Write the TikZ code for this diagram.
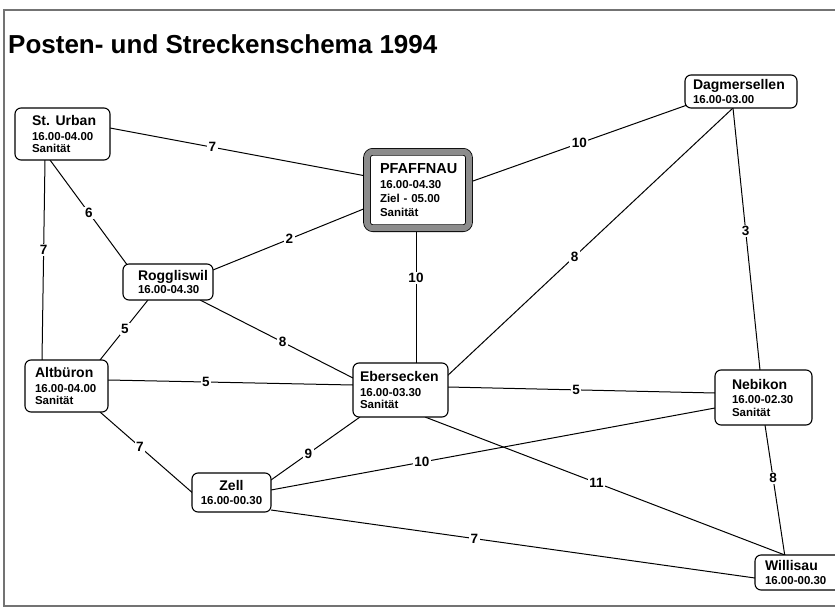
\documentclass[tikz,border=0pt]{standalone}
\usepackage{fontspec}
\setmainfont{Liberation Sans}
\usetikzlibrary{backgrounds}
\newcommand\nm[1]{{\fontsize{14}{15}\selectfont #1}}
\newcommand\pnm[1]{{\fontsize{14.5}{16}\selectfont #1}}
\begin{document}
\begin{tikzpicture}[x=1pt,y=-1pt,
  stn/.style={draw, line width=1.1pt, rounded corners=6pt, fill=white, align=left,
    inner ysep=0pt, font=\bfseries\fontsize{11.5}{12.5}\selectfont},
  lbl/.style={fill=white, inner sep=1.5pt, font=\bfseries\fontsize{13.5}{15}\selectfont},
  con/.style={line width=1pt},
  frm/.style={line width=1.3pt, black!55}
]
\useasboundingbox (0,0) rectangle (835,610);
\draw[frm] (835,10) -- (4,10) -- (4,606) -- (835,606);
\node[anchor=base west, inner sep=0pt, font=\bfseries\fontsize{26}{30}\selectfont] (title) at (8,53) {Posten- und Streckenschema 1994};

\node[stn, text width=61pt, inner xsep=17pt, minimum height=52pt] (stu) at (62.5,134) {\mbox{\nm{St. Urban}}\\[2pt]\mbox{16.00-04.00}\\\mbox{Sanität}};
\node[stn, draw=black, line width=0.8pt, double=black!45, double distance=6pt, fill=white,
  text width=76pt, inner xsep=13pt, minimum height=76.4pt, font=\bfseries\fontsize{11.5}{14}\selectfont] (pfa) at (418,190)
  {\mbox{\pnm{PFAFFNAU}}\\[1pt]\mbox{16.00-04.30}\\\mbox{Ziel - 05.00}\\\mbox{Sanität}};
\node[stn, text width=96pt, inner xsep=8pt, minimum height=33pt] (dag) at (741,91.5) {\mbox{\nm{Dagmersellen}}\\[1pt]\mbox{16.00-03.00}};
\node[stn, text width=60pt, inner xsep=15pt, minimum height=36pt] (rog) at (168,282) {\mbox{\nm{Roggliswil}}\\[1pt]\mbox{16.00-04.30}};
\node[stn, text width=63pt, inner xsep=10pt, minimum height=52pt] (alt) at (66.5,386) {\mbox{\nm{Altbüron}}\\[2pt]\mbox{16.00-04.00}\\\mbox{Sanität}};
\node[stn, text width=81pt, inner xsep=7pt, minimum height=54pt] (ebe) at (400.5,390) {\mbox{\nm{Ebersecken}}\\[2pt]\mbox{16.00-03.30}\\\mbox{Sanität}};
\node[stn, text width=63pt, inner xsep=17pt, minimum height=55pt] (neb) at (763.5,397.5) {\mbox{\nm{Nebikon}}\\[2pt]\mbox{16.00-02.30}\\\mbox{Sanität}};
\node[stn, align=center, text width=69pt, inner xsep=5pt, minimum height=39pt] (zel) at (231.5,492.5) {\mbox{\nm{Zell}}\\[2pt]\mbox{16.00-00.30}};
\node[stn, text width=70pt, inner xsep=10pt, minimum height=35pt] (wil) at (800,572.5) {\mbox{\nm{Willisau}}\\[1pt]\mbox{16.00-00.30}};

\begin{scope}[on background layer]
\draw[con] ([shift={(47.5,-6)}]stu.center) -- node[lbl,pos=0.4]{7} ([shift={(-52,-14)}]pfa.center);
\draw[con] ([shift={(55,-9)}]pfa.center) -- node[lbl,pos=0.49]{10} ([shift={(-51,12.5)}]dag.center);
\draw[con] ([shift={(-12.5,26)}]stu.center) -- node[lbl,pos=0.5]{6} ([shift={(-40,-16)}]rog.center);
\draw[con] ([shift={(-17.5,26)}]stu.center) -- node[lbl,pos=0.45]{7} ([shift={(-24.5,-26)}]alt.center);
\draw[con] ([shift={(45,-12)}]rog.center) -- node[lbl,pos=0.5]{2} ([shift={(-52,18)}]pfa.center);
\draw[con] ([shift={(-2,42)}]pfa.center) -- node[lbl,pos=0.35]{10} ([shift={(15.5,-27)}]ebe.center);
\draw[con] ([shift={(-8,16.5)}]dag.center) -- node[lbl,pos=0.55]{8} ([shift={(44.5,-12)}]ebe.center);
\draw[con] ([shift={(-8,16.5)}]dag.center) -- node[lbl,pos=0.47]{3} ([shift={(-3.5,-27.5)}]neb.center);
\draw[con] ([shift={(-20,18)}]rog.center) -- node[lbl,pos=0.48]{5} ([shift={(33.5,-26)}]alt.center);
\draw[con] ([shift={(32,18)}]rog.center) -- node[lbl,pos=0.54]{8} ([shift={(-47.5,-12)}]ebe.center);
\draw[con] ([shift={(41.5,-6)}]alt.center) -- node[lbl,pos=0.4]{5} ([shift={(-47.5,-5)}]ebe.center);
\draw[con] ([shift={(47.5,-3)}]ebe.center) -- node[lbl,pos=0.48]{5} ([shift={(-48.5,-4.5)}]neb.center);
\draw[con] ([shift={(33.5,26)}]alt.center) -- node[lbl,pos=0.42]{7} ([shift={(-36.5,2.5)}]zel.center);
\draw[con] ([shift={(-40.5,27)}]ebe.center) -- node[lbl,pos=0.58]{9} ([shift={(39.5,-12.5)}]zel.center);
\draw[con] ([shift={(39.5,-2.5)}]zel.center) -- node[lbl,pos=0.34]{10} ([shift={(-48.5,10.5)}]neb.center);
\draw[con] ([shift={(24.5,27)}]ebe.center) -- node[lbl,pos=0.47]{11} ([shift={(-10,-15.5)}]wil.center);
\draw[con] ([shift={(39.5,17.5)}]zel.center) -- node[lbl,pos=0.42]{7} ([shift={(-45,5.5)}]wil.center);
\draw[con] ([shift={(1.5,27.5)}]neb.center) -- node[lbl,pos=0.4]{8} ([shift={(-15,-15.5)}]wil.center);
\end{scope}
\end{tikzpicture}
\end{document}
